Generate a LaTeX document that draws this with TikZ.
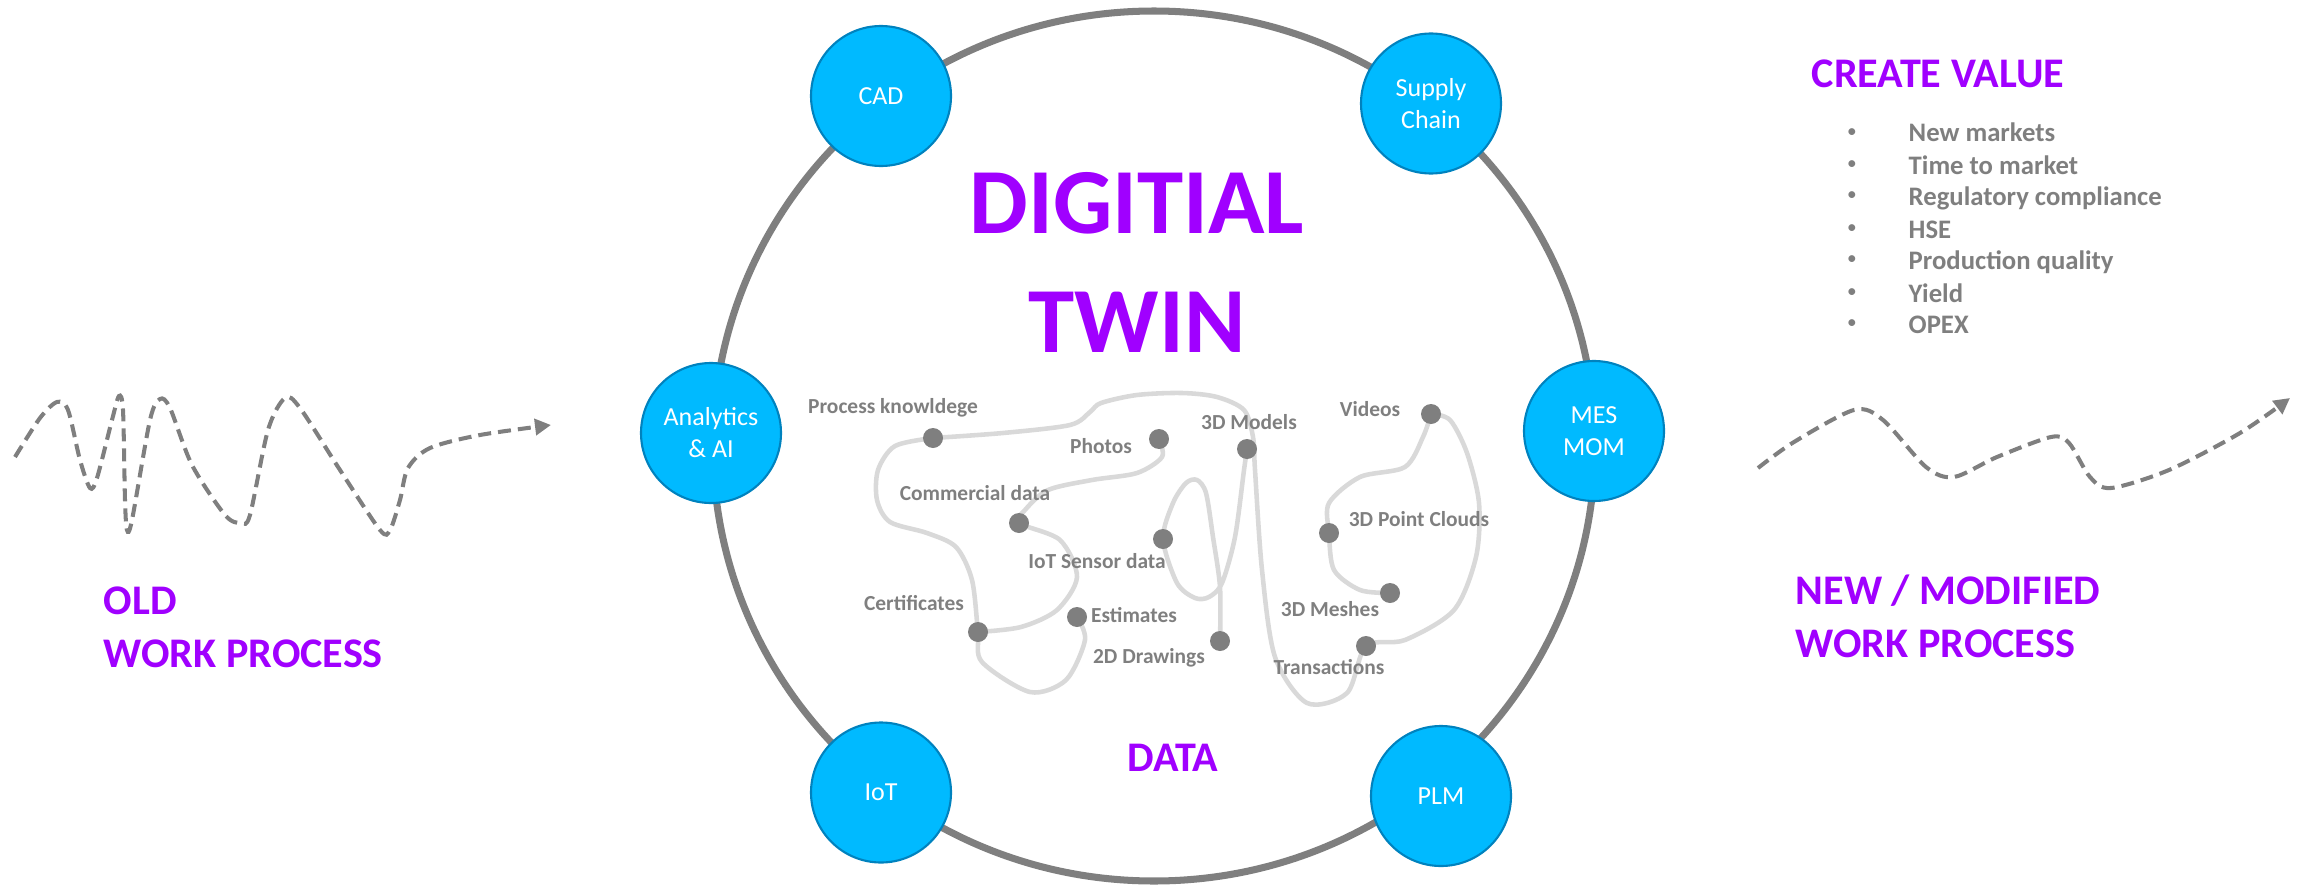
\documentclass[tikz,border=0pt]{standalone}
\usepackage{fontspec}
\setmainfont{Carlito}
\usetikzlibrary{arrows.meta}

\definecolor{twinpurple}{HTML}{A000FF}
\definecolor{twingray}{HTML}{7F7F7F}
\definecolor{wirelight}{HTML}{D9D9D9}
\definecolor{hubblue}{HTML}{00BAFF}
\definecolor{hubedge}{HTML}{0082BE}

\begin{document}
\begin{tikzpicture}[
  hub/.style={circle, draw=hubedge, line width=0.6pt, fill=hubblue, minimum size=1.4cm, inner sep=0pt, text=white, align=center, font=\fontsize{7.4}{9.1}\selectfont},
  datadot/.style={circle, fill=twingray, minimum size=0.2cm, inner sep=0pt},
  datalabel/.style={text=twingray, font=\fontsize{6.1}{7.2}\selectfont\bfseries, inner sep=0pt, anchor=base},
  wire/.style={wirelight, line width=1.3pt},
  flow/.style={twingray, line width=1.15pt, dash pattern=on 0.13cm off 0.07cm, -{Triangle[length=0.16cm, width=0.16cm]}},
  heading/.style={text=twinpurple, font=\fontsize{12}{14.8}\selectfont\bfseries, inner sep=0pt, anchor=base west, align=left},
  valueitem/.style={text=twingray, font=\fontsize{7.6}{9}\selectfont\bfseries, inner sep=0pt, anchor=base west},
  bullet/.style={text=twingray, font=\fontsize{5.5}{6}\selectfont, inner sep=0pt}
]
\useasboundingbox (0,0) rectangle (23,-8.89);

% ring and hubs
\draw[twingray, line width=2pt] (11.54,-4.46) ellipse [x radius=4.41, y radius=4.35];
\node[hub] (cad) at (8.81,-0.96) {CAD};
\node[hub] (supply) at (14.31,-1.035) {Supply\\Chain};
\node[hub] (analytics) at (7.11,-4.33) {Analytics\\\& AI};
\node[hub] (mes) at (15.94,-4.31) {MES\\MOM};
\node[hub] (iot) at (8.81,-7.925) {IoT};
\node[hub] (plm) at (14.41,-7.96) {PLM};

\node[text=twinpurple, font=\fontsize{26.5}{34}\selectfont\bfseries, inner sep=0pt, anchor=base] (digital) at (11.37,-2.33) {DIGITIAL};
\node[text=twinpurple, font=\fontsize{26.5}{34}\selectfont\bfseries, inner sep=0pt, anchor=base] (twin) at (11.37,-3.52) {TWIN};
\node[text=twinpurple, font=\fontsize{12}{14}\selectfont\bfseries, inner sep=0pt] (data) at (11.73,-7.58) {DATA};

% data points
\coordinate (proc) at (9.33,-4.38);
\coordinate (photo) at (11.59,-4.39);
\coordinate (model) at (12.47,-4.49);
\coordinate (video) at (14.31,-4.14);
\coordinate (comm) at (10.19,-5.23);
\coordinate (sensor) at (11.63,-5.39);
\coordinate (cloud) at (13.29,-5.33);
\coordinate (mesh) at (13.90,-5.93);
\coordinate (est) at (10.77,-6.17);
\coordinate (cert) at (9.78,-6.32);
\coordinate (drawing) at (12.20,-6.41);
\coordinate (trans) at (13.66,-6.46);

% wires
\draw[wire] plot[smooth] coordinates {(proc) (8.95,-4.46) (8.78,-4.70) (8.77,-5.00) (8.90,-5.22) (9.27,-5.33) (9.56,-5.47) (9.72,-5.80) (cert) (9.82,-6.62) (10.30,-6.92) (10.66,-6.80) (10.85,-6.40) (est)};
\draw[wire] plot[smooth] coordinates {(photo) (11.62,-4.57) (11.37,-4.73) (10.92,-4.80) (10.48,-4.90) (10.25,-5.10) (comm) (10.60,-5.40) (10.77,-5.77) (10.57,-6.10) (10.21,-6.27) (cert)};
\draw[wire] plot[smooth] coordinates {(proc) (10.03,-4.33) (10.70,-4.25) (10.90,-4.12) (11.01,-4.03) (11.37,-3.95) (11.82,-3.93) (12.17,-3.97) (12.44,-4.10) (12.53,-4.37) (12.55,-4.70) (12.62,-5.70) (12.75,-6.57) (13.07,-7.03) (13.47,-6.93) (trans) (14.05,-6.40) (14.54,-6.10) (14.76,-5.57) (14.79,-5.03) (14.67,-4.53) (14.50,-4.20) (video)};
\draw[wire] plot[smooth] coordinates {(video) (14.23,-4.37) (14.05,-4.67) (13.60,-4.77) (13.29,-5.03) (cloud) (13.34,-5.70) (13.60,-5.90) (mesh)};
\draw[wire] plot[smooth] coordinates {(model) (12.44,-4.70) (12.35,-5.37) (12.22,-5.83) (12.09,-5.97) (11.95,-5.98) (11.77,-5.83) (sensor) (11.73,-5.03) (11.86,-4.83) (11.97,-4.80) (12.06,-4.93) (12.13,-5.37) (12.20,-5.87) (drawing)};

\node[datadot] at (proc) {};
\node[datadot] at (photo) {};
\node[datadot] at (model) {};
\node[datadot] at (video) {};
\node[datadot] at (comm) {};
\node[datadot] at (sensor) {};
\node[datadot] at (cloud) {};
\node[datadot] at (mesh) {};
\node[datadot] at (est) {};
\node[datadot] at (cert) {};
\node[datadot] at (drawing) {};
\node[datadot] at (trans) {};

\node[datalabel] (l-proc) at (8.93,-4.13) {Process knowldege};
\node[datalabel] (l-photo) at (11.01,-4.53) {Photos};
\node[datalabel] (l-model) at (12.49,-4.29) {3D Models};
\node[datalabel] (l-video) at (13.70,-4.16) {Videos};
\node[datalabel] (l-comm) at (9.75,-5.00) {Commercial data};
\node[datalabel] (l-sensor) at (10.97,-5.68) {IoT Sensor data};
\node[datalabel] (l-cloud) at (14.19,-5.26) {3D Point Clouds};
\node[datalabel] (l-cert) at (9.14,-6.10) {Certificates};
\node[datalabel] (l-est) at (11.34,-6.22) {Estimates};
\node[datalabel] (l-mesh) at (13.30,-6.16) {3D Meshes};
\node[datalabel] (l-drawing) at (11.49,-6.63) {2D Drawings};
\node[datalabel] (l-trans) at (13.29,-6.74) {Transactions};

% old work process
\draw[flow] plot[smooth] coordinates {(0.15,-4.57) (0.40,-4.18) (0.57,-4.02) (0.68,-4.10) (0.80,-4.60) (0.90,-4.88) (0.97,-4.78) (1.12,-4.20) (1.19,-3.96) (1.23,-4.10) (1.25,-5.00) (1.27,-5.30) (1.32,-5.20) (1.50,-4.20) (1.60,-3.99) (1.70,-4.08) (1.92,-4.65) (2.25,-5.15) (2.41,-5.23) (2.50,-5.15) (2.68,-4.30) (2.85,-3.98) (3.00,-4.08) (3.40,-4.70) (3.80,-5.30) (3.90,-5.30) (4.00,-5.00) (4.08,-4.68) (4.30,-4.48) (4.80,-4.35) (5.51,-4.25)};
\node[heading] (old) at (1.03,-6.67) {OLD\\WORK PROCESS};

% new work process
\draw[flow] plot[smooth] coordinates {(17.58,-4.68) (17.94,-4.42) (18.54,-4.10) (18.83,-4.20) (19.26,-4.67) (19.54,-4.77) (19.97,-4.57) (20.51,-4.37) (20.69,-4.43) (20.90,-4.77) (21.11,-4.88) (21.69,-4.70) (22.40,-4.33) (22.90,-3.98)};
\node[heading] (new) at (17.95,-6.57) {NEW / MODIFIED\\WORK PROCESS};

% value list
\node[heading] (value) at (18.11,-0.87) {CREATE VALUE};
\node[valueitem] (v1) at (19.08,-1.42) {New markets};
\node[valueitem] (v2) at (19.08,-1.74) {Time to market};
\node[valueitem] (v3) at (19.08,-2.05) {Regulatory compliance};
\node[valueitem] (v4) at (19.08,-2.38) {HSE};
\node[valueitem] (v5) at (19.08,-2.69) {Production quality};
\node[valueitem] (v6) at (19.08,-3.02) {Yield};
\node[valueitem] (v7) at (19.08,-3.33) {OPEX};
\node[bullet] at (18.52,-1.33) {\textbullet};
\node[bullet] at (18.52,-1.65) {\textbullet};
\node[bullet] at (18.52,-1.96) {\textbullet};
\node[bullet] at (18.52,-2.29) {\textbullet};
\node[bullet] at (18.52,-2.60) {\textbullet};
\node[bullet] at (18.52,-2.93) {\textbullet};
\node[bullet] at (18.52,-3.24) {\textbullet};
\end{tikzpicture}
\end{document}
